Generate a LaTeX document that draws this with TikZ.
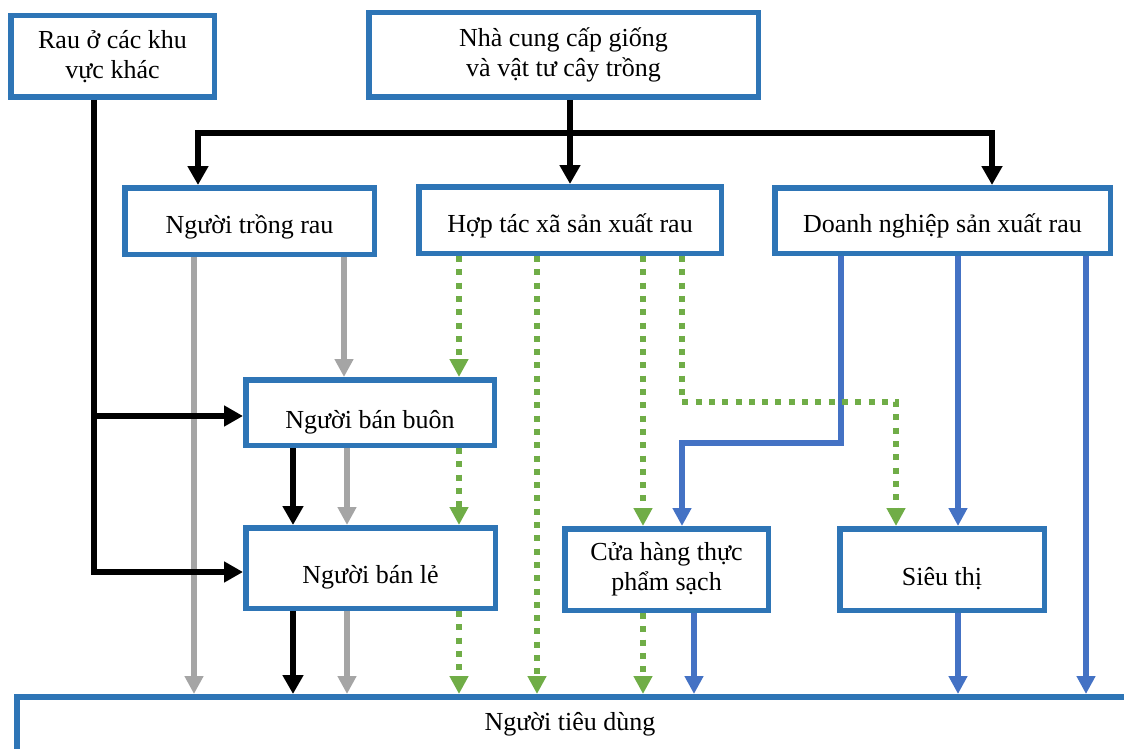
\documentclass[tikz,border=0pt]{standalone}
\usepackage{fontspec}
\setmainfont{Liberation Serif}
\usetikzlibrary{arrows.meta}
\definecolor{boxblue}{RGB}{46,117,182}
\definecolor{lineblue}{RGB}{68,114,196}
\definecolor{lgreen}{RGB}{112,173,71}
\definecolor{lgrey}{RGB}{165,165,165}
\begin{document}
\begin{tikzpicture}[x=1pt,y=-1pt,
  box/.style={draw=boxblue, line width=5.5pt, fill=white, align=center, inner sep=0pt,
    font=\fontsize{26}{30}\selectfont},
  rowone/.style={text height=28pt, text depth=4pt},
  rowtwo/.style={text height=35pt, text depth=4pt},
  lbl/.style={inner sep=0pt, font=\fontsize{26}{30}\selectfont},
  arr/.style={line width=5.5pt, -{Triangle[width=18pt,length=18pt]}},
  blk/.style={arr, color=black, line width=6.5pt, -{Triangle[width=20pt,length=19pt]}},
  gry/.style={arr, color=lgrey},
  grn/.style={arr, color=lgreen, dash pattern=on 6pt off 7.3pt},
  blu/.style={arr, color=lineblue}]
\useasboundingbox (0,0) rectangle (1124,749);
\clip (0,0) rectangle (1124,749);

% boxes
\node[box, minimum width=203.5pt, minimum height=81.5pt] (rau) at (112.5,56.5) {Rau ở các khu\\vực khác};
\node[box, minimum width=389.5pt, minimum height=84.5pt] (ncc) at (563.5,55) {Nhà cung cấp giống\\và vật tư cây trồng};
\node[box, rowone, minimum width=249.5pt, minimum height=66.5pt] (ntr) at (249.5,221) {Người trồng rau};
\node[box, rowone, minimum width=302.5pt, minimum height=66.5pt] (htx) at (570,220) {Hợp tác xã sản xuất rau};
\node[box, rowone, minimum width=335.5pt, minimum height=65.5pt] (dn) at (942.5,220.5) {Doanh nghiệp sản xuất rau};
\node[box, rowtwo, minimum width=248.5pt, minimum height=65.5pt] (bbuon) at (370,412.5) {Người bán buôn};
\node[box, rowtwo, minimum width=249.5pt, minimum height=80.5pt] (ble) at (370.5,568) {Người bán lẻ};
\node[box, minimum width=203.5pt, minimum height=81.5pt] (ch) at (666.5,569.5) {Cửa hàng thực\\phẩm sạch};
\node[box, rowtwo, minimum width=204.5pt, minimum height=81.5pt] (st) at (942,569.5) {Siêu thị};
\node[box, minimum width=1114.5pt, minimum height=90.5pt] (ntd) at (574,742) {};
\node[lbl, anchor=base] (ntdlabel) at (570,730) {Người tiêu dùng};

% coordinates
\coordinate (b1) at (198,133);
\coordinate (b2) at (992,133);
\coordinate (r1) at (94,416);
\coordinate (r2) at (94,572);
\coordinate (g1) at (194,0);
\coordinate (g2) at (344,0);
\coordinate (g3) at (347,0);
\coordinate (k1) at (293,0);
\coordinate (q1) at (459,0);
\coordinate (q2) at (537,0);
\coordinate (q3) at (643,0);
\coordinate (q4) at (682,402);
\coordinate (q5) at (896,402);
\coordinate (u1) at (841,443);
\coordinate (u2) at (682,443);
\coordinate (u3) at (958,0);
\coordinate (u4) at (1086,0);
\coordinate (u5) at (694,0);

% grey
\draw[gry] (g1 |- ntr.south) -- (g1 |- ntd.north);
\draw[gry] (g2 |- ntr.south) -- (g2 |- bbuon.north);
\draw[gry] (g3 |- bbuon.south) -- (g3 |- ble.north);
\draw[gry] (g3 |- ble.south) -- (g3 |- ntd.north);

% black
\draw[blk] (b2) -- (b1) -- (b1 |- ntr.north);
\draw[blk] (b1) -- (b2) -- (b2 |- dn.north);
\draw[blk] (ncc.south -| htx.north) -- (htx.north);
\draw[blk] (r1 |- rau.south) -- (r2) -- (r2 -| ble.west);
\draw[blk] (r1) -- (r1 -| bbuon.west);
\draw[blk] (k1 |- bbuon.south) -- (k1 |- ble.north);
\draw[blk] (k1 |- ble.south) -- (k1 |- ntd.north);

% blue
\draw[blu] (u1 |- dn.south) -- (u1) -- (u2) -- (u2 |- ch.north);
\draw[blu] (u3 |- dn.south) -- (u3 |- st.north);
\draw[blu] (u3 |- st.south) -- (u3 |- ntd.north);
\draw[blu] (u4 |- dn.south) -- (u4 |- ntd.north);
\draw[blu] (u5 |- ch.south) -- (u5 |- ntd.north);

% green dotted
\draw[grn] (q1 |- htx.south) -- (q1 |- bbuon.north);
\draw[grn] (q1 |- bbuon.south) -- (q1 |- ble.north);
\draw[grn] (q1 |- ble.south) -- (q1 |- ntd.north);
\draw[grn] (q2 |- htx.south) -- (q2 |- ntd.north);
\draw[grn] (q3 |- htx.south) -- (q3 |- ch.north);
\draw[grn] (q3 |- ch.south) -- (q3 |- ntd.north);
\draw[grn] (q4 |- htx.south) -- (q4) -- (q5) -- (q5 |- st.north);
\end{tikzpicture}
\end{document}
